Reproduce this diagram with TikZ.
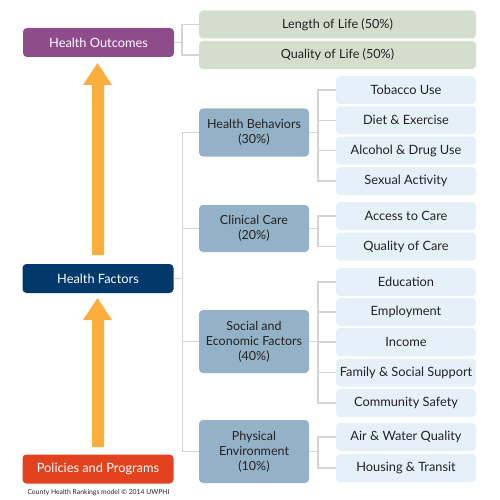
\documentclass[tikz,border=0pt]{standalone}
\usepackage{fontspec}
\setmainfont{Lato}
\definecolor{hopurple}{HTML}{8E4C8B}
\definecolor{hfnavy}{HTML}{00396A}
\definecolor{pporange}{HTML}{E2431E}
\definecolor{arrowor}{HTML}{F9AE3D}
\definecolor{outgreen}{HTML}{D3DECD}
\definecolor{catblue}{HTML}{94B2C7}
\definecolor{leafblue}{HTML}{E5F1F9}
\definecolor{linegray}{HTML}{D4D4D4}
\definecolor{txtdark}{HTML}{222222}
\begin{document}
\begin{tikzpicture}[x=1pt,y=-1pt,
  box/.style={rounded corners=4pt, inner sep=0pt, align=center, text=txtdark},
  mainbox/.style={box, minimum width=151pt, minimum height=29pt, text=white, font=\fontsize{12.8}{15}\selectfont},
  outbox/.style={box, fill=outgreen, minimum width=277pt, minimum height=28pt, font=\fontsize{12.6}{14}\selectfont},
  catbox/.style={box, fill=catblue, minimum width=110pt, font=\fontsize{12.5}{15}\selectfont},
  leafbox/.style={box, fill=leafblue, minimum width=140pt, minimum height=28pt, font=\fontsize{12.8}{14}\selectfont},
  conn/.style={draw=linegray, line width=1.5pt},
  arr/.style={fill=arrowor, draw=none}]
\useasboundingbox (0,0) rectangle (500,500);
% main column
\node[mainbox, fill=hopurple] (ho) at (98.5,42.5) {Health Outcomes};
\node[mainbox, fill=hfnavy] (hf) at (98,278.5) {Health Factors};
\node[mainbox, fill=pporange] (pp) at (98,469) {Policies and Programs};
\node[font=\fontsize{6.8}{7}\selectfont, text=txtdark, inner sep=0pt] (cap) at (98.5,493) {County Health Rankings model \textcopyright{} 2014 UWPHI};
% outcomes
\node[outbox] (lol) at (337.5,24.5) {Length of Life (50\%)};
\node[outbox] (qol) at (337.5,55) {Quality of Life (50\%)};
% categories
\node[catbox, minimum height=48pt] (hb) at (254,132.5) {Health Behaviors\\(30\%)};
\node[catbox, minimum height=47pt] (cc) at (254,228.5) {Clinical Care\\(20\%)};
\node[catbox, minimum height=63pt] (se) at (254,341.5) {Social and\\Economic Factors\\(40\%)};
\node[catbox, minimum height=63pt] (pe) at (254,451.5) {Physical\\Environment\\(10\%)};
% leaves
\node[leafbox] (tob) at (406,90) {Tobacco Use};
\node[leafbox] (die) at (406,120.3) {Diet \& Exercise};
\node[leafbox] (alc) at (406,150.6) {Alcohol \& Drug Use};
\node[leafbox] (sex) at (406,181) {Sexual Activity};
\node[leafbox] (acc) at (406,216) {Access to Care};
\node[leafbox] (qoc) at (406,246.5) {Quality of Care};
\node[leafbox] (edu) at (406,282) {Education};
\node[leafbox] (emp) at (406,312) {Employment};
\node[leafbox] (inc) at (406,342) {Income};
\node[leafbox] (fam) at (406,372.5) {Family \& Social Support};
\node[leafbox] (com) at (406,403) {Community Safety};
\node[leafbox] (air) at (406,437) {Air \& Water Quality};
\node[leafbox] (hou) at (406,468) {Housing \& Transit};
% connectors
\foreach \t in {lol,qol} \draw[conn] (ho.east) -- ++(8,0) |- (\t.west);
\foreach \t in {hb,cc,se,pe} \draw[conn] (hf.east) -- ++(9,0) |- (\t.west);
\foreach \t in {tob,die,alc,sex} \draw[conn] (hb.east) -- ++(9,0) |- (\t.west);
\foreach \t in {acc,qoc} \draw[conn] (cc.east) -- ++(9,0) |- (\t.west);
\foreach \t in {edu,emp,inc,fam,com} \draw[conn] (se.east) -- ++(9,0) |- (\t.west);
\foreach \t in {air,hou} \draw[conn] (pe.east) -- ++(9,0) |- (\t.west);
% arrows
\fill[arr] (92,255) -- (92,85) -- (83,85) -- (97.5,63) -- (112,85) -- (104,85) -- (104,255) -- cycle;
\fill[arr] (92,447) -- (92,320) -- (83,320) -- (97.5,298) -- (112,320) -- (104,320) -- (104,447) -- cycle;
\end{tikzpicture}
\end{document}
